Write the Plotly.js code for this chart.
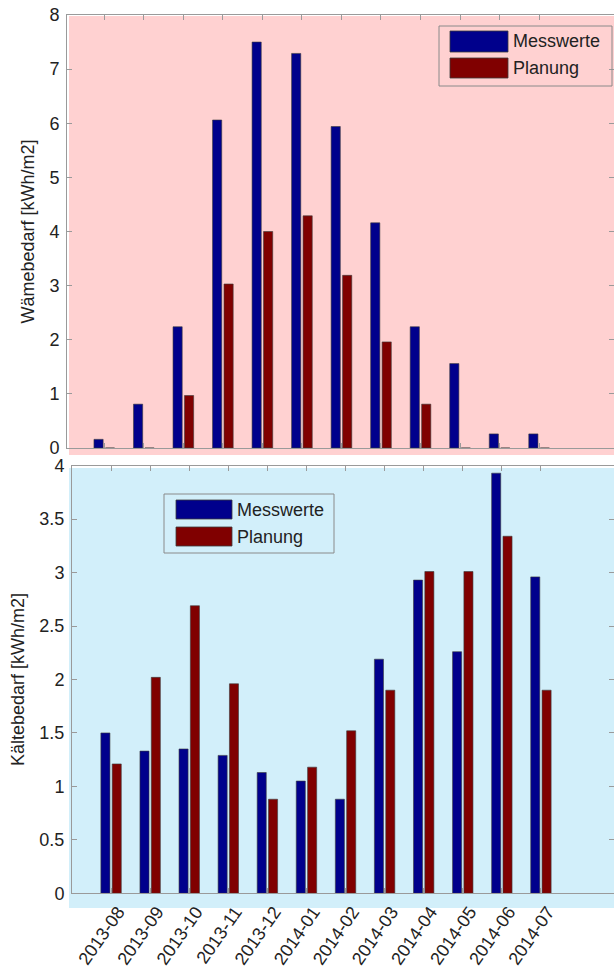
<!DOCTYPE html>
<html>
<head>
<meta charset="utf-8">
<script src="https://cdn.plot.ly/plotly-3.0.1.min.js"></script>
<style>html,body{margin:0;padding:0;background:#fff;}#chart{width:614px;height:970px;}</style>
</head>
<body>
<div id="chart"></div>
<script>
// ---- data ----
const months = ["2013-08","2013-09","2013-10","2013-11","2013-12","2014-01","2014-02","2014-03","2014-04","2014-05","2014-06","2014-07"];
const seriesNames = ["Messwerte", "Planung"];
const heatMeasured = [0.16, 0.81, 2.24, 6.06, 7.50, 7.29, 5.94, 4.16, 2.24, 1.56, 0.26, 0.26];
const heatPlanned  = [0, 0, 0.97, 3.03, 4.00, 4.29, 3.19, 1.96, 0.81, 0, 0, 0];
const coolMeasured = [1.50, 1.33, 1.35, 1.29, 1.13, 1.05, 0.88, 2.19, 2.93, 2.26, 3.93, 2.96];
const coolPlanned  = [1.21, 2.02, 2.69, 1.96, 0.88, 1.18, 1.52, 1.90, 3.01, 3.01, 3.34, 1.90];
const heatTicks = [0,1,2,3,4,5,6,7,8];
const coolTicks = [0,0.5,1,1.5,2,2.5,3,3.5,4];
const heatTitle = "Wämebedarf [kWh/m2]";
const coolTitle = "Kältebedarf [kWh/m2]";

// ---- styling ----
const W = 614, H = 970;
const px = v => v / W;
const py = v => 1 - v / H;
const blue = "#00008c", red = "#800000";
const edge = {color: "#3a3a3a", width: 0.6};
const font = {family: "Liberation Sans, Arial, sans-serif", size: 18, color: "#222"};
const axisLine = "#9a9a9a";

const traces = [
  {type: "bar", x: months, y: heatMeasured, name: seriesNames[0], xaxis: "x", yaxis: "y", marker: {color: blue, line: edge}},
  {type: "bar", x: months, y: heatPlanned,  name: seriesNames[1], xaxis: "x", yaxis: "y", marker: {color: red, line: edge}},
  {type: "bar", x: months, y: coolMeasured, name: seriesNames[0], xaxis: "x2", yaxis: "y2", marker: {color: blue, line: edge}},
  {type: "bar", x: months, y: coolPlanned,  name: seriesNames[1], xaxis: "x2", yaxis: "y2", marker: {color: red, line: edge}}
];

const baseAxis = {
  showline: true, mirror: "ticks", linecolor: axisLine, linewidth: 1,
  ticks: "inside", ticklen: 5, tickcolor: axisLine, tickwidth: 1,
  showgrid: false, zeroline: false, fixedrange: true, tickfont: font
};

function legendParts(x0, x1, y0, y1, sw, rows, textX) {
  const shapes = [{type: "rect", xref: "paper", yref: "paper", x0: px(x0), x1: px(x1), y0: py(y1), y1: py(y0),
    line: {color: "#8a8a8a", width: 1}, fillcolor: "rgba(0,0,0,0)"}];
  const ann = [];
  const cols = [blue, red];
  rows.forEach((r, i) => {
    shapes.push({type: "rect", xref: "paper", yref: "paper", x0: px(sw[0]), x1: px(sw[1]), y0: py(r[1]), y1: py(r[0]),
      line: {color: "#3a3a3a", width: 0.8}, fillcolor: cols[i]});
    ann.push({xref: "paper", yref: "paper", x: px(textX), y: py((r[0] + r[1]) / 2), text: seriesNames[i],
      showarrow: false, xanchor: "left", yanchor: "middle", font: font});
  });
  return {shapes, ann};
}

const lg1 = legendParts(439, 612, 26, 86, [450, 508], [[31, 52], [58, 78]], 511);
const lg2 = legendParts(164, 334, 494, 553, [176, 232], [[500, 519], [527, 546]], 235);

const layout = {
  width: W, height: H,
  margin: {l: 0, r: 0, t: 0, b: 0, pad: 0},
  paper_bgcolor: "#ffffff", plot_bgcolor: "rgba(0,0,0,0)",
  showlegend: false,
  barmode: "group", bargap: 0.42, bargroupgap: 0.2,
  font: font,
  xaxis: Object.assign({}, baseAxis, {domain: [px(67), 1], range: [-0.943, 12.895], anchor: "y",
    type: "category", showticklabels: false}),
  yaxis: Object.assign({}, baseAxis, {domain: [py(448), py(15)], range: [0, 8], anchor: "x",
    tickvals: heatTicks, ticklabelstandoff: 3,
    title: {text: heatTitle, font: font, standoff: 10}}),
  xaxis2: Object.assign({}, baseAxis, {domain: [px(72), 1], range: [-1, 12.87], anchor: "y2",
    type: "category", tickangle: -55, ticklabelstandoff: 0, ticklabelshift: 7}),
  yaxis2: Object.assign({}, baseAxis, {domain: [py(893.3), py(465.7)], range: [0, 4], anchor: "x2",
    tickvals: coolTicks, ticktext: coolTicks.map(v => String(v)), ticklabelstandoff: 3,
    title: {text: coolTitle, font: font, standoff: 10}}),
  shapes: [
    {type: "rect", xref: "paper", yref: "paper", layer: "below", x0: px(69), x1: 1, y0: py(455), y1: py(16),
      line: {width: 0}, fillcolor: "#ffd1d1"},
    {type: "rect", xref: "paper", yref: "paper", layer: "below", x0: px(69), x1: 1, y0: py(908), y1: py(468),
      line: {width: 0}, fillcolor: "#d2effa"}
  ].concat(lg1.shapes, lg2.shapes),
  annotations: lg1.ann.concat(lg2.ann)
};

Plotly.newPlot("chart", traces, layout, {displayModeBar: false, staticPlot: true});
</script>
</body>
</html>
